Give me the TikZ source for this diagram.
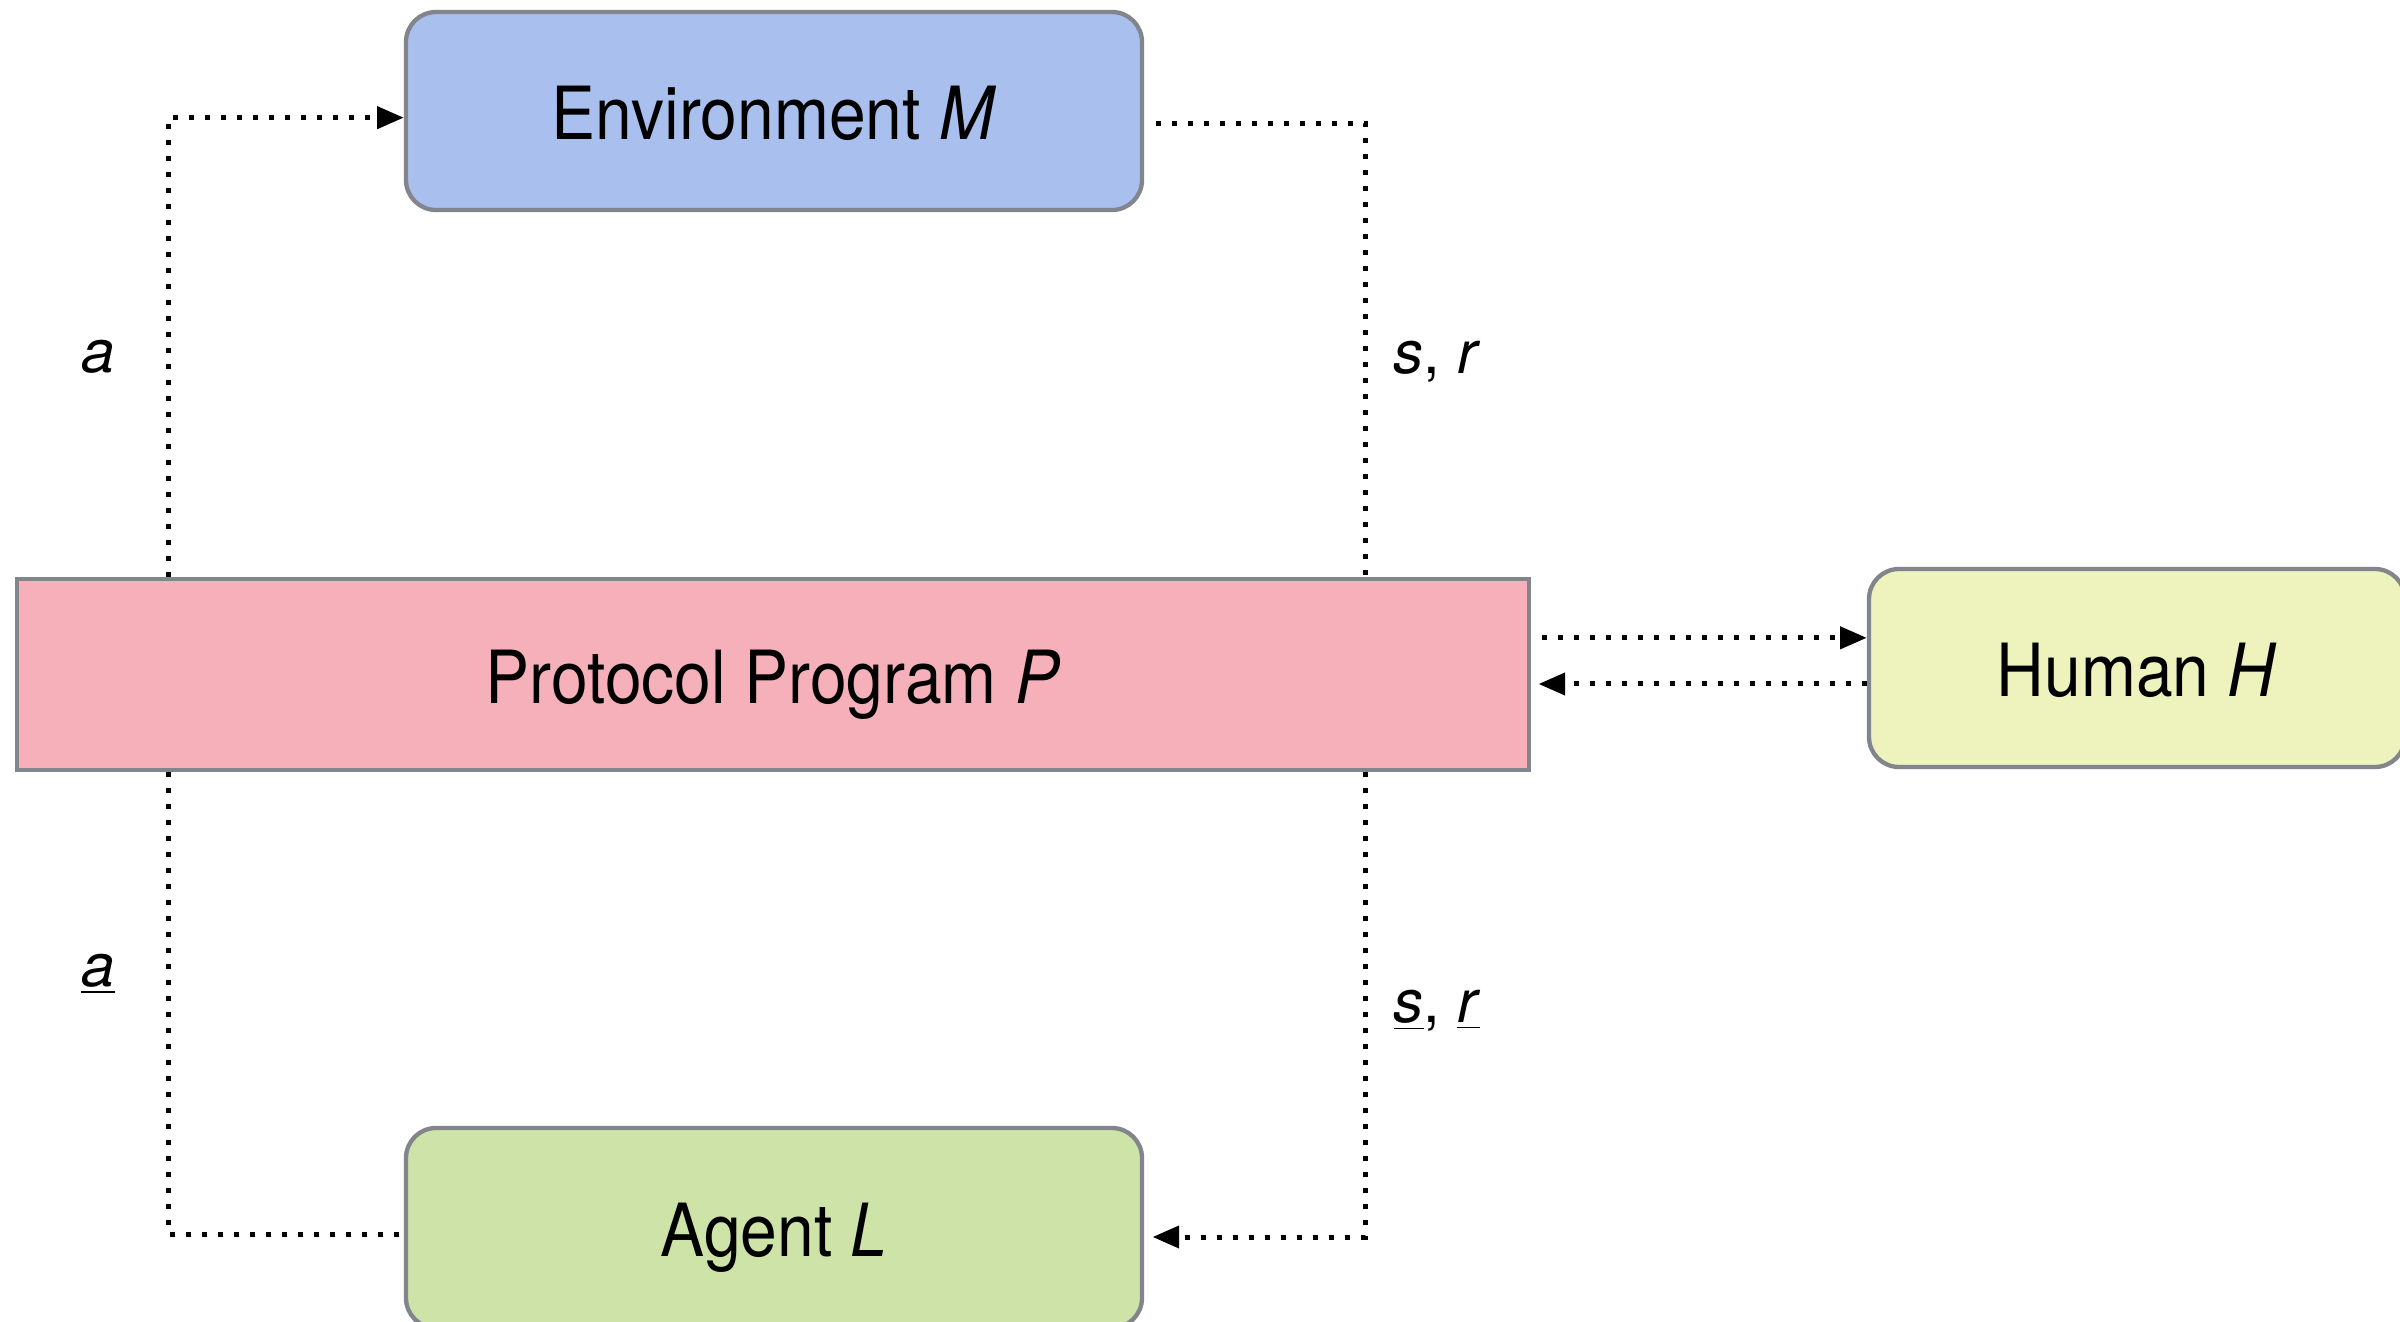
\documentclass[tikz,border=0pt]{standalone}
\usepackage{fontspec}
\setmainfont{TeX Gyre Heros}
\newfontfamily\boxfont[FakeStretch=0.9]{TeX Gyre Heros}
\usetikzlibrary{arrows.meta}
\definecolor{envc}{RGB}{169,192,238}
\definecolor{protc}{RGB}{245,176,186}
\definecolor{humc}{RGB}{238,243,190}
\definecolor{agc}{RGB}{205,227,167}
\definecolor{bord}{RGB}{130,134,140}
\tikzset{
  box/.style={draw=bord, line width=1.3pt, inner sep=0pt, align=center,
    text height=17.2pt, text depth=0pt,
    font=\boxfont\fontsize{22}{26}\selectfont},
  rbox/.style={box, rounded corners=9pt},
  dotline/.style={line width=1.5pt, dash pattern=on 1.5pt off 3.3pt},
  tip/.style={-{Triangle[length=8pt,width=6.5pt]}},
  lab/.style={font=\fontsize{18}{20}\selectfont, inner sep=0pt}
}
\begin{document}
\begin{tikzpicture}[x=0.3pt,y=-0.3pt]
\useasboundingbox[fill=white] (0,0) rectangle (2400,1322);
\node[rbox, fill=envc, minimum width=220.8pt, minimum height=59.4pt] (env) at (774,111) {Environment \textit{M}};
\node[box, fill=protc, minimum width=453.6pt, minimum height=57.3pt] (prot) at (773,674.5) {Protocol Program \textit{P}};
\node[rbox, fill=humc, minimum width=160.8pt, minimum height=59.4pt] (hum) at (2137,668) {Human \textit{H}};
\node[rbox, fill=agc, minimum width=220.8pt, minimum height=60pt] (agent) at (774,1228) {Agent \textit{L}};
\coordinate (lx) at (168,0);
\coordinate (rx) at (1365,0);
% top left: P -> M
\draw[dotline, tip] (prot.north -| lx) |- ([yshift=-2pt]env.west);
% top right: M -> P
\draw[dotline] ([xshift=3.4pt,yshift=-3.9pt]env.east) -| (prot.north -| rx);
% P <-> H
\coordinate (p1) at ([xshift=3.3pt,yshift=11pt]prot.east);
\draw[dotline, tip] (p1) -- (p1 -| hum.west);
\coordinate (h1) at ([yshift=-4.8pt]hum.west);
\draw[dotline, tip] (h1) -- ([xshift=2.2pt]h1 -| prot.east);
% bottom left: L -> P
\draw[dotline] (prot.south -| lx) |- ([yshift=-1.8pt]agent.west);
% bottom right: P -> L
\draw[dotline, tip] (prot.south -| rx) |- ([xshift=2.5pt,yshift=-2.7pt]agent.east);
% labels
\node[lab] (la) at (98,357) {\textit{a}};
\node[lab] (lsr) at (1437,362) {\textit{s}, \textit{r}};
\node[lab] (lau) at (98,974) {\underline{\textit{a}}};
\node[lab] (lsru) at (1437,1011) {\underline{\textit{s}}, \underline{\textit{r}}};
\end{tikzpicture}
\end{document}
